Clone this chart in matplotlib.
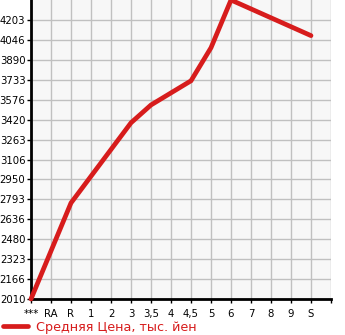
import numpy as np
import matplotlib
matplotlib.use("Agg")
import matplotlib.pyplot as plt

categories = ["***", "RA", "R", "1", "2", "3", "3,5", "4", "4,5", "5", "6", "7", "8", "9", "S"]
price = [2010, np.nan, 2765, np.nan, np.nan, 3395, 3535, np.nan, 3725, 3985, 4360, np.nan, np.nan, np.nan, 4080]
yticks = [2010, 2166, 2323, 2480, 2636, 2793, 2950, 3106, 3263, 3420, 3576, 3733, 3890, 4046, 4203]
legend_label = "Средняя Цена, тыс. йен"

fig = plt.figure(figsize=(3.45, 3.35), dpi=100)
ax = fig.add_axes([31/345, 1 - 299/335, 300/345, 299/335])
ax.set_facecolor("#f7f7f7")

x = np.arange(len(categories))
y = np.array(price, dtype=float)
m = ~np.isnan(y)
line, = ax.plot(x[m], y[m], color="#d71c1c", lw=3.4, solid_capstyle="round", solid_joinstyle="miter", clip_on=False, zorder=3)

ax.set_xlim(0, len(categories))
ax.set_ylim(2010, 4360)
ax.set_yticks(yticks)
ax.set_xticks(list(x) + [len(categories)])
ax.set_xticklabels(categories + [""])
ax.grid(True, color="#c0c0c0", lw=1)
ax.set_axisbelow(True)
for s in ["top", "right"]:
    ax.spines[s].set_visible(False)
ax.spines["left"].set_linewidth(2)
ax.spines["bottom"].set_linewidth(2)
ax.tick_params(axis="y", labelsize=7.3, length=3, width=1, colors="black", pad=1)
ax.tick_params(axis="x", labelsize=7.3, length=3, width=1, colors="black", pad=4)

fig.legend([line], [legend_label], loc="center left", bbox_to_anchor=(-0.025, 1 - 327/335), frameon=False,
           fontsize=9.2, handlelength=2.0, handletextpad=0.6, labelcolor="#d71c1c")
fig.savefig("out.png", dpi=100)
